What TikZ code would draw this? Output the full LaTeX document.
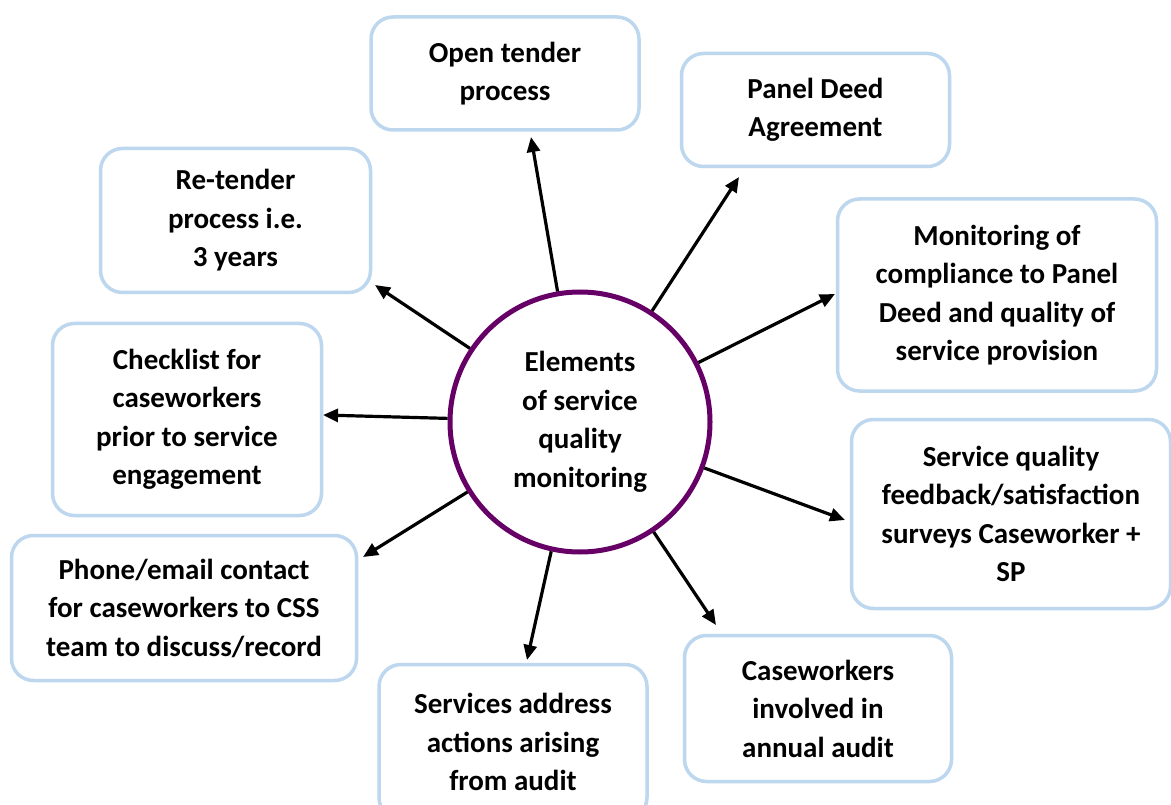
\documentclass[tikz,border=0pt]{standalone}
\usepackage{fontspec}
\setmainfont{Carlito}
\usetikzlibrary{arrows.meta}
\definecolor{boxblue}{RGB}{189,215,238}
\definecolor{ringpurple}{RGB}{102,0,102}
\begin{document}
\begin{tikzpicture}[x=1pt,y=-1pt,
  box/.style={draw=boxblue,line width=3.5pt,rounded corners=22pt,align=center,
    font=\fontsize{29}{38.5}\selectfont\bfseries,inner sep=0pt},
  ring/.style={circle,draw=ringpurple,line width=5pt,align=center,minimum size=260pt,
    font=\fontsize{29}{38.5}\selectfont\bfseries,inner sep=0pt},
  conn/.style={line width=3.2pt,-{Triangle[length=15pt,width=13pt]}}]
\useasboundingbox (0,0) rectangle (1171,805);
\clip (0,0) rectangle (1171,805);
\fill[white] (0,0) rectangle (1171,805);

\node[ring] (c) at (580,422) {Elements\\of service\\quality\\monitoring};

\node[box,minimum width=268pt,minimum height=113pt] (b1) at (505,73.5) {Open tender\\process};
\node[box,minimum width=268pt,minimum height=113pt] (b2) at (815.5,110) {Panel Deed\\Agreement};
\node[box,minimum width=270pt,minimum height=144pt] (b3) at (235.5,220.5) {Re-tender\\process i.e.\\3 years};
\node[box,minimum width=319pt,minimum height=192pt] (b4) at (997,295) {Monitoring of\\compliance to Panel\\Deed and quality of\\service provision};
\node[box,minimum width=269pt,minimum height=192pt] (b5) at (187,419.5) {Checklist for\\caseworkers\\prior to service\\engagement};
\node[box,minimum width=319pt,minimum height=189pt] (b6) at (1011,514) {Service quality\\feedback/satisfaction\\surveys Caseworker +\\SP};
\node[box,minimum width=345pt,minimum height=145pt] (b7) at (184,608) {Phone/email contact\\for caseworkers to CSS\\team to discuss/record};
\node[box,minimum width=268pt,minimum height=155pt] (b8) at (513,742) {Services address\\actions arising\\from audit};
\node[box,minimum width=267pt,minimum height=146pt] (b9) at (818,708.5) {Caseworkers\\involved in\\annual audit};

\coordinate (t1) at (531,137);
\coordinate (t2) at (739,177);
\coordinate (t3) at (375,285);
\coordinate (t4) at (835,294);
\coordinate (t5) at (323,415);
\coordinate (t6) at (845,520);
\coordinate (t7) at (363,557);
\coordinate (t8) at (527,660);
\coordinate (t9) at (716,625);

\foreach \i in {1,...,9} {\draw[conn] (c) -- (t\i);}
\end{tikzpicture}
\end{document}
